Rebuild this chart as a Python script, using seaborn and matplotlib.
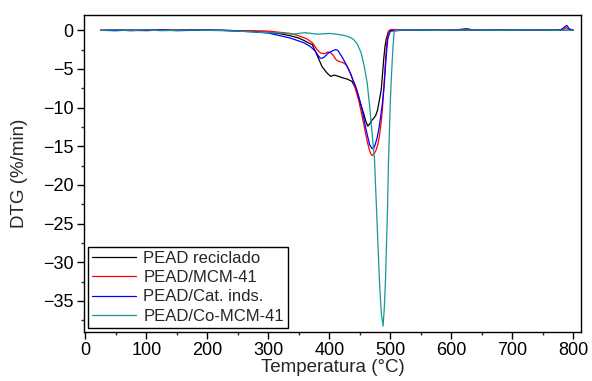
import matplotlib
matplotlib.use("Agg")
import matplotlib.pyplot as plt
import seaborn as sns
from matplotlib.ticker import MultipleLocator

# ---- Data ----
x_rec = [25, 50, 75, 100, 125, 150, 175, 200, 225, 250, 275, 300, 320, 336, 350, 358, 365,
         372, 377, 382, 388, 393, 396, 402, 408, 413, 420, 429, 437, 443, 448, 452, 456, 460,
         463, 467, 470, 473, 476, 479, 482, 485, 487, 489, 491, 493, 497, 505, 530, 560, 600,
         625, 640, 680, 720, 760, 790, 800]
y_rec = [0, 0.05, -0.05, 0.05, 0, 0.05, 0.1, 0, 0, -0.05, -0.15, -0.25, -0.45, -0.7, -1.0,
         -1.3, -1.6, -1.85, -2.7, -3.6, -4.7, -5.2, -5.5, -5.95, -5.8, -5.9, -6.1, -6.3, -6.6,
         -7.5, -8.8, -9.7, -10.7, -11.8, -12.4, -12.0, -11.6, -11.35, -11.0, -10.3, -9.0, -7.7,
         -5.8, -3.8, -2.2, -1.2, -0.1, 0.05, 0, 0.05, 0, 0.2, 0, 0.05, 0, 0.05, 0, 0]

x_mcm = [25, 50, 75, 100, 125, 150, 175, 200, 225, 250, 275, 300, 336, 350, 363, 372, 380,
         385, 389, 393, 397, 402, 407, 411, 415, 419, 423, 428, 432, 436, 440, 444, 448, 452,
         456, 460, 464, 467, 470, 473, 476, 479, 482, 485, 487, 490, 492, 494, 497, 500, 510,
         540, 600, 650, 700, 750, 780, 788, 795, 800]
y_mcm = [0, 0.05, 0, -0.05, 0.05, 0, 0.05, 0, 0, -0.05, -0.05, -0.1, -0.4, -0.7, -1.1, -1.6,
         -2.5, -2.9, -3.0, -3.0, -2.8, -2.9, -3.3, -3.8, -4.0, -4.1, -4.2, -4.5, -5.1, -5.8,
         -6.8, -7.9, -9.0, -10.5, -12.0, -13.6, -15.0, -15.8, -16.2, -16.0, -15.6, -14.9,
         -13.7, -11.8, -10.2, -6.5, -4.0, -1.6, -0.2, 0.1, 0.1, 0, 0.05, 0, 0, 0.05, 0, 0.35,
         0, 0]

x_cat = [25, 50, 75, 100, 125, 150, 175, 200, 225, 250, 275, 300, 336, 358, 369, 377, 382,
         385, 388, 391, 395, 399, 404, 410, 414, 418, 422, 426, 430, 434, 438, 443, 447, 451,
         455, 459, 463, 466, 470, 473, 475, 478, 481, 484, 487, 490, 492, 494, 496, 500, 530,
         580, 630, 680, 730, 770, 780, 785, 789, 793, 800]
y_cat = [0, -0.05, 0.05, 0, 0.05, -0.05, 0, 0.05, 0, -0.1, -0.2, -0.35, -1.0, -1.6, -2.1,
         -2.7, -3.3, -3.6, -3.6, -3.5, -3.2, -2.9, -2.7, -2.5, -2.6, -3.1, -3.6, -4.2, -4.8,
         -5.5, -6.3, -7.2, -8.2, -9.4, -10.8, -12.4, -13.8, -14.8, -15.3, -15.2, -14.8, -14.0,
         -12.8, -11.2, -9.4, -7.0, -4.6, -2.6, -1.0, -0.1, 0.05, 0, 0.05, 0, 0.05, 0, 0.1,
         0.4, 0.65, 0.2, 0]

x_co = [25, 50, 75, 100, 125, 150, 175, 200, 225, 250, 275, 300, 320, 340, 360, 380, 400,
        412, 420, 429, 436, 440, 446, 452, 457, 462, 466, 470, 474, 478, 482, 485, 488, 490,
        492, 495, 497, 500, 502, 504, 506, 508, 530, 580, 630, 680, 730, 780, 800]
y_co = [0, 0.05, 0, 0.05, -0.05, 0, 0.05, 0, -0.05, -0.1, -0.2, -0.3, -0.35, -0.5, -0.3,
        -0.5, -0.4, -0.5, -0.6, -0.75, -1.0, -1.2, -1.8, -2.9, -4.6, -6.8, -9.8, -13.3,
        -16.7, -24.5, -32.3, -36.5, -38.25, -36.0, -32.3, -24.0, -16.7, -9.0, -5.5, -2.5,
        -0.3, 0, 0.05, 0, 0.05, 0, 0.05, 0, 0]

labels = ["PEAD reciclado", "PEAD/MCM-41", "PEAD/Cat. inds.", "PEAD/Co-MCM-41"]
colors = ["black", "#ff0000", "#0000ff", "#159a94"]

# ---- Plot ----
sns.set_style("ticks")
plt.rcParams["font.family"] = ["Liberation Sans", "DejaVu Sans"]

fig = plt.figure(figsize=(5.92, 3.81), dpi=100)
ax = fig.add_axes([0.142, 0.129, 0.839, 0.832])

series = [(x_rec, y_rec), (x_mcm, y_mcm), (x_cat, y_cat), (x_co, y_co)]
for (xs, ys), lab, col in zip(series, labels, colors):
    sns.lineplot(x=xs, y=ys, ax=ax, color=col, linewidth=0.9, label=lab,
                 estimator=None, sort=False)

ax.set_xlim(-2, 812)
ax.set_ylim(-39, 2)
ax.xaxis.set_major_locator(MultipleLocator(100))
ax.xaxis.set_minor_locator(MultipleLocator(50))
ax.yaxis.set_major_locator(MultipleLocator(5))
ax.yaxis.set_minor_locator(MultipleLocator(2.5))
ax.tick_params(which="major", direction="out", length=5, width=1, labelsize=13,
               colors="black", pad=2.5)
ax.tick_params(which="minor", direction="out", length=2.5, width=1)
for sp in ax.spines.values():
    sp.set_visible(True)
    sp.set_linewidth(1.0)
    sp.set_color("black")

ax.set_xlabel("Temperatura (°C)", fontsize=13.5, labelpad=0)
ax.set_ylabel("DTG (%/min)", fontsize=13.5)
ax.yaxis.set_label_coords(-0.113, 0.5)

leg = ax.legend(loc="lower left", fontsize=12, frameon=True, fancybox=False,
                edgecolor="black", framealpha=1, handlelength=2.6, handletextpad=0.45,
                labelspacing=0.25, borderpad=0.25, borderaxespad=0.25)
leg.get_frame().set_linewidth(1.0)

plt.savefig("out.png", dpi=100)
